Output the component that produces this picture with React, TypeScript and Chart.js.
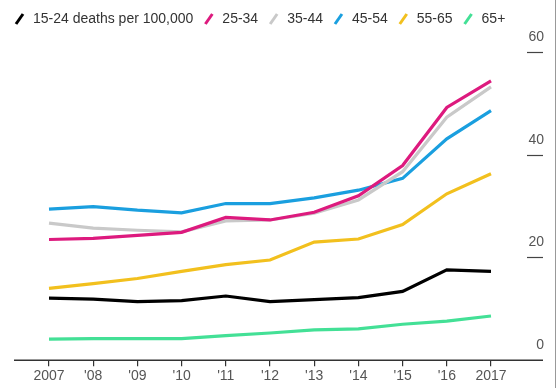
import React, { useEffect, useRef } from "react";
import { Chart, registerables } from "chart.js";

Chart.register(...registerables);

const years = ["2007", "'08", "'09", "'10", "'11", "'12", "'13", "'14", "'15", "'16", "2017"];
const seriesNames = ["15-24 deaths per 100,000", "25-34", "35-44", "45-54", "55-65", "65+"];
const age15to24 = [12.1, 11.9, 11.4, 11.6, 12.5, 11.4, 11.8, 12.2, 13.4, 17.6, 17.3];
const age25to34 = [23.5, 23.7, 24.3, 24.9, 27.8, 27.3, 28.8, 32.0, 37.9, 49.2, 54.4];
const age35to44 = [26.7, 25.7, 25.3, 25.0, 27.1, 27.3, 28.6, 31.2, 36.7, 47.3, 53.2];
const age45to54 = [29.4, 29.9, 29.2, 28.7, 30.5, 30.5, 31.6, 33.1, 35.4, 43.1, 48.6];
const age55to65 = [14.0, 14.9, 15.9, 17.3, 18.6, 19.5, 23.0, 23.6, 26.4, 32.4, 36.3];
const age65plus = [4.1, 4.2, 4.2, 4.2, 4.8, 5.3, 5.9, 6.1, 7.0, 7.6, 8.6];
const yTickValues = [0, 20, 40, 60];
const seriesColors = ["#000000", "#dd1a7e", "#c9c9c9", "#1a9fdf", "#f2c01e", "#43e096"];

const FONT = "'Liberation Sans', Arial, Helvetica, sans-serif";

const overlayPlugin = {
  id: "overlay",
  afterDraw(chart: any) {
    const ctx = chart.ctx as CanvasRenderingContext2D;
    const yScale = chart.scales.y;
    ctx.save();

    // baseline
    const base = yScale.getPixelForValue(0);
    ctx.strokeStyle = "#333";
    ctx.lineWidth = 1.5;
    ctx.beginPath();
    ctx.moveTo(14, base);
    ctx.lineTo(543, base);
    ctx.stroke();

    // right-hand value labels with short tick lines
    ctx.font = `14px ${FONT}`;
    ctx.fillStyle = "#555";
    ctx.textAlign = "right";
    ctx.textBaseline = "middle";
    ctx.lineWidth = 1.2;
    ctx.strokeStyle = "#444";
    for (const v of yTickValues) {
      const py = Math.round(yScale.getPixelForValue(v)) + 0.5;
      if (v > 0) {
        ctx.beginPath();
        ctx.moveTo(527, py);
        ctx.lineTo(543, py);
        ctx.stroke();
      }
      ctx.fillText(String(v), 544, py - 15);
    }

    // legend
    let lx = 15;
    const ly = 19;
    ctx.textAlign = "left";
    ctx.fillStyle = "#333";
    chart.data.datasets.forEach((ds: any) => {
      ctx.strokeStyle = ds.borderColor;
      ctx.lineWidth = 3;
      ctx.lineCap = "butt";
      ctx.beginPath();
      ctx.moveTo(lx + 1, ly + 5);
      ctx.lineTo(lx + 8, ly - 5);
      ctx.stroke();
      ctx.fillText(ds.label, lx + 18, ly);
      lx += 18 + ctx.measureText(ds.label).width + 11;
    });

    // right frame line
    ctx.strokeStyle = "#999";
    ctx.lineWidth = 1;
    ctx.beginPath();
    ctx.moveTo(555.5, 0);
    ctx.lineTo(555.5, 388);
    ctx.stroke();

    ctx.restore();
  },
};

export default function App() {
  const canvasRef = useRef<HTMLCanvasElement | null>(null);

  useEffect(() => {
    document.body.style.margin = "0";
    const canvas = canvasRef.current;
    if (!canvas) return;
    const allSeries = [age15to24, age25to34, age35to44, age45to54, age55to65, age65plus];
    const chart = new Chart(canvas, {
      type: "line",
      data: {
        labels: years,
        datasets: allSeries.map((data, i) => ({
          label: seriesNames[i],
          data,
          borderColor: seriesColors[i],
          backgroundColor: seriesColors[i],
          borderWidth: 3.2,
          pointRadius: 0,
          tension: 0,
          fill: false,
        })),
      },
      options: {
        animation: false,
        responsive: false,
        devicePixelRatio: 1,
        layout: { padding: { left: 49, right: 68, top: 52, bottom: 1 } },
        plugins: {
          legend: { display: false },
          tooltip: { enabled: false },
        },
        scales: {
          x: {
            offset: false,
            border: { display: false },
            grid: {
              drawOnChartArea: false,
              drawTicks: true,
              tickLength: 6,
              color: "#333",
              lineWidth: 1.2,
            },
            ticks: {
              color: "#555",
              font: { family: FONT, size: 14 },
              padding: 2,
              maxRotation: 0,
              autoSkip: false,
            },
          },
          y: {
            display: false,
            min: 0,
            max: 60,
          },
        },
      },
      plugins: [overlayPlugin],
    });
    return () => chart.destroy();
  }, []);

  return (
    <div style={{ width: 559, height: 388, background: "#fff" }}>
      <canvas ref={canvasRef} width={559} height={388} style={{ display: "block" }} />
    </div>
  );
}
